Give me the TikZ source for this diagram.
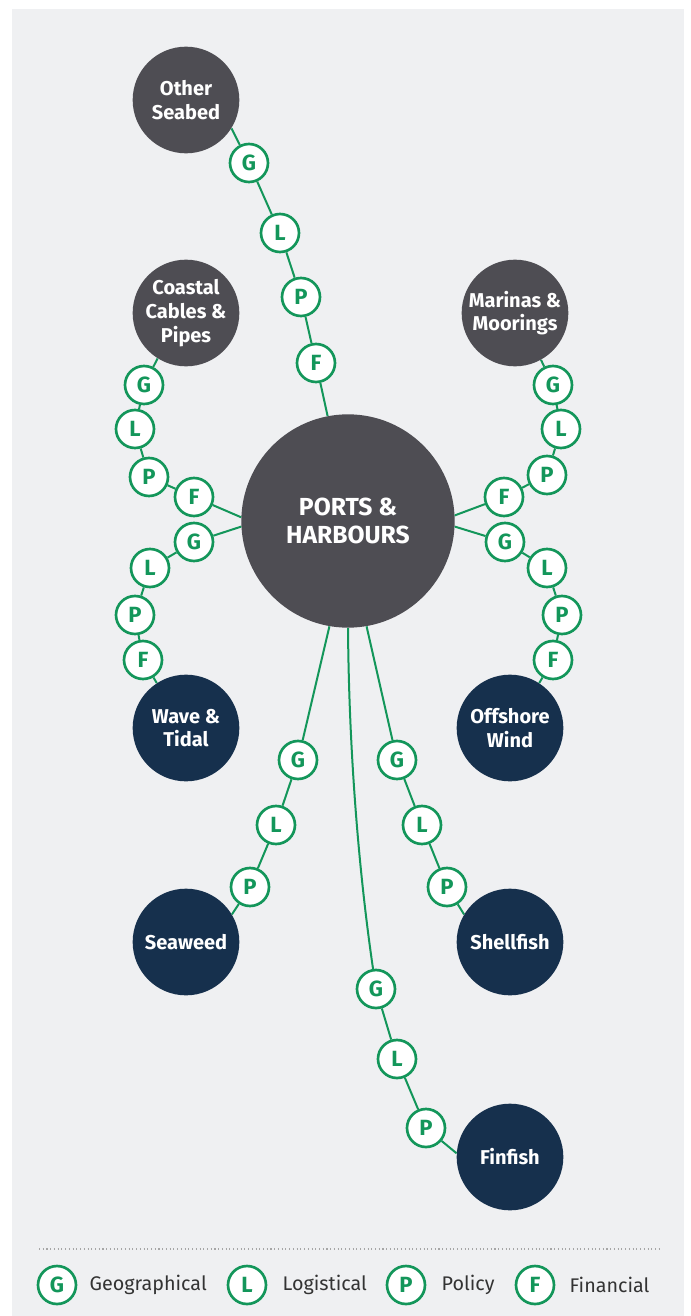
\documentclass[tikz,border=0pt]{standalone}
\usepackage{fontspec}
\setmainfont{Fira Sans}
\definecolor{nen}{HTML}{EFF0F2}   % panel
\definecolor{xam}{HTML}{4E4D53}   % grey circles
\definecolor{navy}{HTML}{16304D}  % blue circles
\definecolor{xanh}{HTML}{13965A}  % green links
\begin{document}
\begin{tikzpicture}[x=0.75pt,y=-0.75pt,
	hub/.style={circle,fill=xam,text=white,minimum size=160pt,inner sep=0pt,align=center,font=\fontsize{18.5}{21}\selectfont\bfseries},
	sector/.style={circle,minimum size=80pt,inner sep=0pt,align=center,text=white,font=\fontsize{15}{17.8}\selectfont\bfseries},
	bead/.style={circle,draw=xanh,line width=2pt,fill=white,text=xanh,minimum size=28.5pt,inner sep=0pt,font=\fontsize{16.5}{16.5}\selectfont\bfseries},
	link/.style={draw=xanh,line width=1.5pt},
	key/.style={anchor=west,text=black!80,font=\fontsize{14.8}{18}\selectfont}]
	\useasboundingbox (0,0) rectangle (691,1316);
	\fill[nen] (12,9) rectangle (684,1316);
	% hub and sectors
	\node[hub] (PH) at (348,521) {PORTS \&\\HARBOURS};
	\node[sector,fill=xam] (OS) at (186,100) {Other\\Seabed};
	\node[sector,fill=xam] (CC) at (186,313) {Coastal\\Cables \&\\Pipes};
	\node[sector,fill=xam] (MM) at (515,313) {Marinas \&\\Moorings};
	\node[sector,fill=navy] (WT) at (186,728) {Wave \&\\Tidal};
	\node[sector,fill=navy] (OW) at (510,728) {Offshore\\Wind};
	\node[sector,fill=navy] (SW) at (186,942) {Seaweed};
	\node[sector,fill=navy] (SF) at (510,942) {Shellfish};
	\node[sector,fill=navy] (FF) at (510,1157) {Finfish};
	% Other Seabed
	\node[bead] (OSg) at (249,163) {G};
	\node[bead] (OSl) at (280,233) {L};
	\node[bead] (OSp) at (301,297) {P};
	\node[bead] (OSf) at (316,363) {F};
	\draw[link] (OS.-32)--(OSg)--(OSl)--(OSp)--(OSf)--(PH.101);
	% Coastal Cables & Pipes
	\node[bead] (CCg) at (144,385) {G};
	\node[bead] (CCl) at (135,429) {L};
	\node[bead] (CCp) at (149,477) {P};
	\node[bead] (CCf) at (194,497) {F};
	\draw[link] (CC.238)--(CCg)--(CCl)--(CCp)--(CCf)--(PH.178);
	% Marinas & Moorings
	\node[bead] (MMg) at (553,385) {G};
	\node[bead] (MMl) at (561,429) {L};
	\node[bead] (MMp) at (547,475) {P};
	\node[bead] (MMf) at (504,497) {F};
	\draw[link] (MM.299)--(MMg)--(MMl)--(MMp)--(MMf)--(PH.3);
	% Wave & Tidal
	\node[bead] (WTg) at (194,542) {G};
	\node[bead] (WTl) at (150,568) {L};
	\node[bead] (WTp) at (135,615) {P};
	\node[bead] (WTf) at (143,660) {F};
	\draw[link] (PH.183)--(WTg)--(WTl)--(WTp)--(WTf)--(WT.123);
	% Offshore Wind
	\node[bead] (OWg) at (505,542) {G};
	\node[bead] (OWl) at (547,568) {L};
	\node[bead] (OWp) at (562,615) {P};
	\node[bead] (OWf) at (553,660) {F};
	\draw[link] (PH.-3)--(OWg)--(OWl)--(OWp)--(OWf)--(OW.57);
	% Seaweed
	\node[bead] (SWg) at (298,760) {G};
	\node[bead] (SWl) at (276,825) {L};
	\node[bead] (SWp) at (250,887) {P};
	\draw[link] (PH.260)--(SWg)--(SWl)--(SWp)--(SW.31);
	% Shellfish
	\node[bead] (SFg) at (397,760) {G};
	\node[bead] (SFl) at (422,825) {L};
	\node[bead] (SFp) at (447,887) {P};
	\draw[link] (PH.280)--(SFg)--(SFl)--(SFp)--(SF.149);
	% Finfish
	\node[bead] (FFg) at (376,989) {G};
	\node[bead] (FFl) at (397,1059) {L};
	\node[bead] (FFp) at (426,1128) {P};
	\draw[link] (PH.270) .. controls (349,760) and (360,880) .. (FFg);
	\draw[link] (FFg)--(FFl)--(FFp)--(FF.176);
	% key
	\coordinate (KL) at (39,1249); \coordinate (KR) at (660,1249);
	\draw[black!35,line width=0.8pt,dotted] (KL)--(KR);
	\node[bead] (Kg) at (57,1285) {G};   \node[key] (Kgt) at (85,1285) {Geographical};
	\node[bead] (Kl) at (247,1285) {L};  \node[key] (Klt) at (278,1285) {Logistical};
	\node[bead] (Kp) at (406,1285) {P};  \node[key] (Kpt) at (437,1285) {Policy};
	\node[bead] (Kf) at (535,1285) {F};  \node[key] (Kft) at (565,1285) {Financial};
\end{tikzpicture}
\end{document}
